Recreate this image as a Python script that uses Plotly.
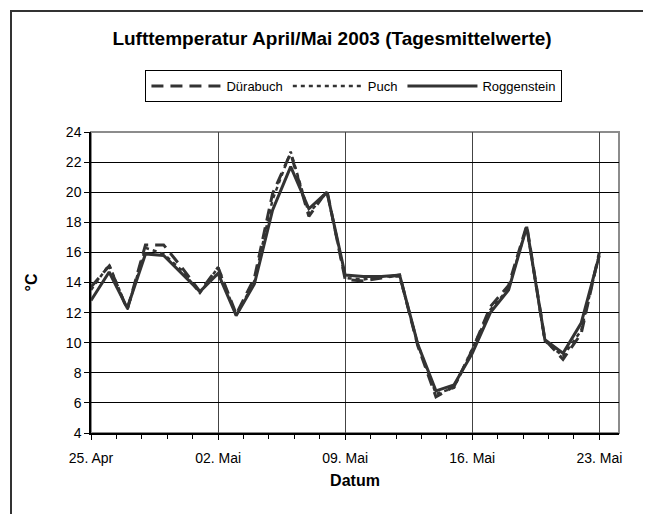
import pandas as pd
import plotly.graph_objects as go

dates = pd.date_range("2003-04-25", periods=29, freq="D")

duerabuch = [13.7, 15.1, 12.2, 16.5, 16.5, 15.0, 13.4, 15.0, 11.9, 14.3, 19.9, 22.6, 18.4, 20.1, 14.2,
             14.1, 14.3, 14.5, 9.8, 6.4, 7.1, 9.5, 12.4, 13.8, 17.8, 10.2, 8.9, 10.6, 16.0]
puch = [13.5, 15.2, 12.2, 16.3, 15.9, 14.8, 13.3, 15.0, 11.8, 14.1, 19.5, 22.7, 18.6, 20.0, 14.3,
        14.2, 14.4, 14.4, 9.9, 6.6, 7.0, 9.6, 12.2, 13.6, 17.7, 10.1, 9.1, 10.8, 15.9]
roggenstein = [12.8, 14.7, 12.3, 15.9, 15.8, 14.6, 13.4, 14.6, 11.8, 13.9, 18.8, 21.7, 18.9, 20.0, 14.5,
               14.4, 14.4, 14.5, 9.9, 6.8, 7.2, 9.3, 12.0, 13.5, 17.7, 10.2, 9.3, 11.3, 15.8]

tick_vals = ["2003-04-25", "2003-05-02", "2003-05-09", "2003-05-16", "2003-05-23"]
tick_text = ["25. Apr", "02. Mai", "09. Mai", "16. Mai", "23. Mai"]

FONT = "Arial, Liberation Sans, sans-serif"
LINE = "#333333"

fig = go.Figure()
fig.add_trace(go.Scatter(x=dates, y=duerabuch, mode="lines", name="Dürabuch",
                         line=dict(color=LINE, width=3, dash="12px,7px")))
fig.add_trace(go.Scatter(x=dates, y=puch, mode="lines", name="Puch",
                         line=dict(color=LINE, width=2.5, dash="4px,4px")))
fig.add_trace(go.Scatter(x=dates, y=roggenstein, mode="lines", name="Roggenstein",
                         line=dict(color=LINE, width=3)))

fig.update_layout(
    width=651, height=514,
    margin=dict(l=83, r=40, t=124, b=89, autoexpand=False),
    paper_bgcolor="white", plot_bgcolor="white",
    font=dict(family=FONT, color="black"),
    title=dict(text="<b>Lufttemperatur April/Mai 2003 (Tagesmittelwerte)</b>",
               font=dict(size=19, family=FONT, color="black"),
               x=324 / 651, xanchor="center", xref="container",
               y=1 - 30 / 514, yanchor="middle", yref="container"),
    legend=dict(orientation="h", x=0.498, xanchor="center", y=1.206, yanchor="top",
                bordercolor="black", borderwidth=1, bgcolor="white",
                font=dict(size=13, family=FONT), itemwidth=70,
                tracegroupgap=0),
    showlegend=True,
)

fig.update_xaxes(
    type="date", automargin=False,
    range=["2003-04-25", "2003-05-24 02:00"],
    tickmode="array", tickvals=tick_vals, ticktext=tick_text,
    ticks="outside", ticklen=5, tickcolor="black", tickwidth=1,
    ticklabelstandoff=6,
    tickfont=dict(size=14, family=FONT, color="black"),
    showline=True, linecolor="black", linewidth=1.5,
    showgrid=True, gridcolor="#444444", gridwidth=1,
    minor=dict(tick0="2003-04-25", dtick=1.4 * 86400000, ticks="outside", ticklen=4,
               tickcolor="black", showgrid=False),
    title=dict(text="<b>Datum</b>", font=dict(size=16, family=FONT, color="black"), standoff=10),
    zeroline=False,
)
fig.update_yaxes(
    automargin=False,
    range=[4, 24], dtick=2, tick0=4,
    ticks="outside", ticklen=5, tickcolor="black",
    tickfont=dict(size=14, family=FONT, color="black"),
    showline=True, linecolor="black", linewidth=1.5,
    showgrid=True, gridcolor="black", gridwidth=1,
    title=dict(text="<b>°C</b>", font=dict(size=16, family=FONT, color="black"), standoff=24),
    zeroline=False,
)

# plot area border (gray) and outer chart frame
fig.add_shape(type="rect", xref="paper", yref="paper", x0=0, x1=1, y0=0, y1=1,
              line=dict(color="#8c8c8c", width=2), layer="below")
fig.add_shape(type="rect", xref="paper", yref="paper",
              x0=(3 - 83) / 528, x1=1.3, y0=-0.5, y1=(425 - 3) / 301,
              line=dict(color="#333333", width=2), layer="below")

fig.write_html("out.html")
